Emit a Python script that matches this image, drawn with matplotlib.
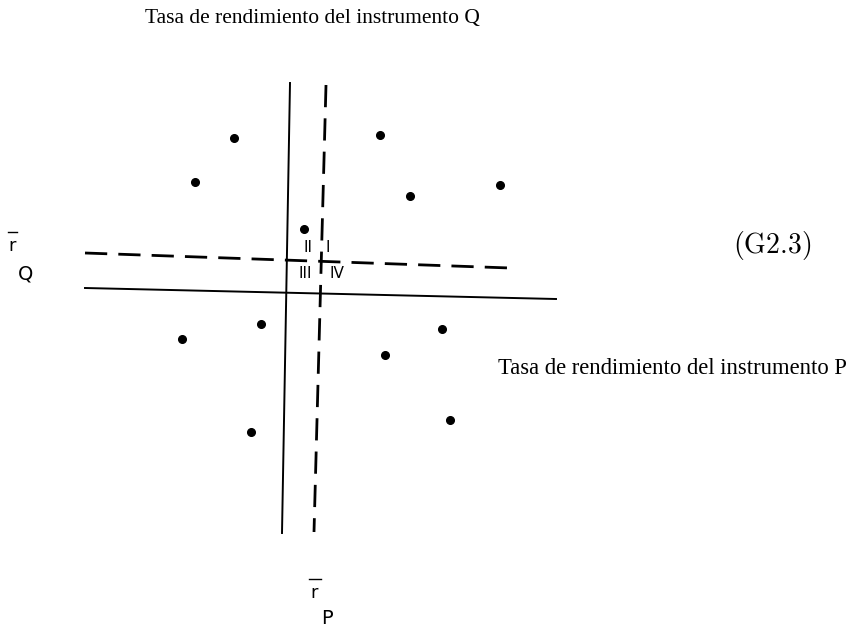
import matplotlib.pyplot as plt

# scatter points (picture coordinates, y grows downwards)
pts_x = [234, 380, 195, 410, 500, 304, 182, 261, 442, 385, 251, 450]
pts_y = [138, 135, 182, 196, 185, 229, 339, 324, 329, 355, 432, 420]

# axes of the instruments (solid) and the means (dashed)
solid_v = ([290, 282], [83, 533])
solid_h = ([85, 556], [288, 299])
dash_v = ([326, 314], [85, 532])
dash_h = ([85, 510], [253, 268])

quad_labels = ['II', 'I', 'III', 'IV']
quad_x = [308, 328, 305, 337]
quad_y = [247, 247, 274, 274]

fig = plt.figure(figsize=(8.49, 6.31), dpi=100)
ax = fig.add_axes([0, 0, 1, 1])
ax.set_xlim(0, 849)
ax.set_ylim(631, 0)
ax.axis('off')

ax.plot(*solid_v, color='black', lw=1.4)
ax.plot(*solid_h, color='black', lw=1.4)
ax.plot(*dash_v, color='black', lw=2.0, dashes=(8, 4))
ax.plot(*dash_h, color='black', lw=2.0, dashes=(8, 4))
ax.plot(pts_x, pts_y, 'o', color='black', ms=5.5)

for lab, x, y in zip(quad_labels, quad_x, quad_y):
    ax.text(x, y, lab, fontsize=11, family='DejaVu Sans', ha='center', va='center')

serif = 'Liberation Serif'
ax.text(312, 18, 'Tasa de rendimiento del instrumento Q', fontsize=15.5, family=serif,
        ha='center', va='center')
ax.text(672, 368, 'Tasa de rendimiento del instrumento P', fontsize=16.3, family=serif,
        ha='center', va='center')

plt.rcParams['mathtext.fontset'] = 'cm'
ax.text(772, 245, r'$\mathrm{(G2.3)}$', fontsize=20, ha='center', va='center')

# r-bar labels
ax.text(12, 246, 'r', fontsize=13, family='DejaVu Sans', ha='center', va='center')
ax.plot([8, 17], [232, 232], color='black', lw=1)
ax.text(26, 274, 'Q', fontsize=14, family='DejaVu Sans', ha='center', va='center')
ax.text(314, 593, 'r', fontsize=13, family='DejaVu Sans', ha='center', va='center')
ax.plot([309, 321], [579, 579], color='black', lw=1)
ax.text(327, 618, 'P', fontsize=14, family='DejaVu Sans', ha='center', va='center')

fig.savefig('out.png', dpi=100)
